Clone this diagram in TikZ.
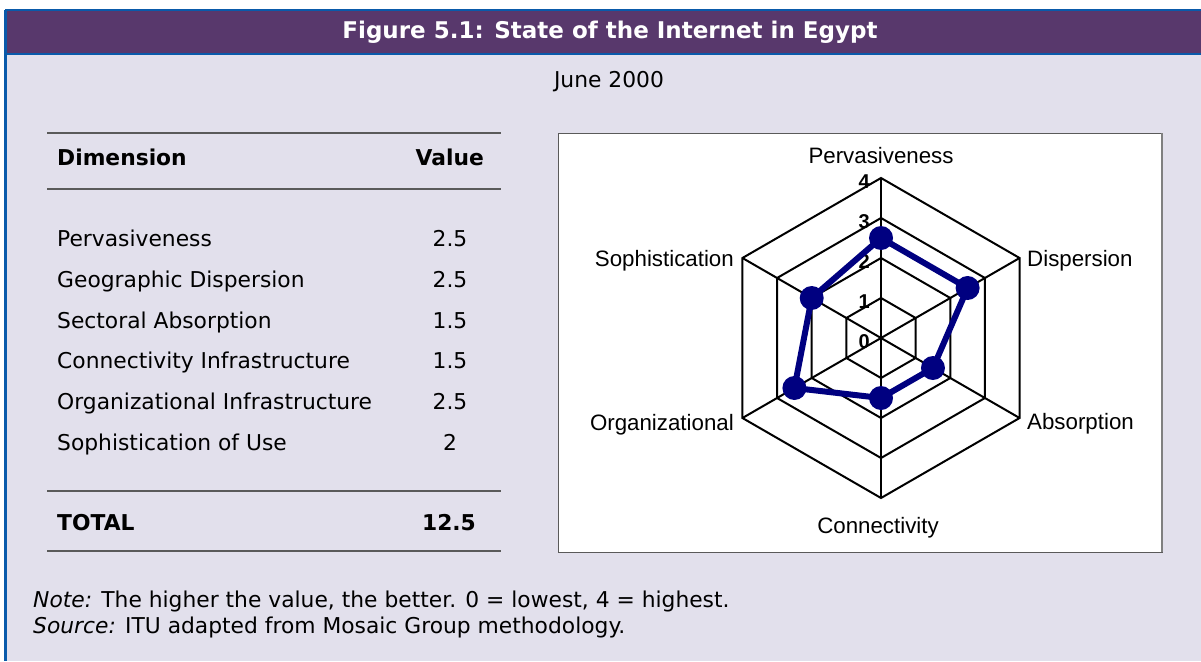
\documentclass[tikz,border=0pt]{standalone}
\usepackage{fontspec}
\setmainfont{DejaVu Sans}
\newfontfamily\chartfont{Liberation Sans}
\definecolor{headpurple}{RGB}{88,56,108}
\definecolor{panelbg}{RGB}{226,224,236}
\definecolor{borderblue}{RGB}{10,90,170}
\definecolor{rulegray}{RGB}{90,90,90}
\definecolor{linenavy}{RGB}{0,0,128}
\begin{document}
\begin{tikzpicture}[x=1pt,y=-1pt,
    bodytext/.style={font=\fontsize{21.8}{26}\selectfont, inner sep=0pt},
    headtext/.style={font=\fontsize{21.8}{26}\selectfont\bfseries, inner sep=0pt},
    titletext/.style={font=\fontsize{23}{26}\selectfont\bfseries, inner sep=0pt, text=white},
    axislabel/.style={font=\chartfont\fontsize{22.3}{24}\selectfont, inner sep=0pt},
    ticklabel/.style={font=\chartfont\fontsize{20}{22}\selectfont\bfseries, inner sep=0pt},
    tablerule/.style={draw=rulegray, line width=1.5pt},
    ring/.style={draw=black, line width=2pt, line join=miter}]
    \useasboundingbox (0,0) rectangle (1201,661);
    \fill[white] (0,0) rectangle (1201,661);
    % frame and header
    \fill[panelbg] (5,10) rectangle (1201,661);
    \fill[headpurple] (5,10) rectangle (1201,54);
    \draw[borderblue, line width=1.5pt] (5,10) -- (1201,10);
    \draw[borderblue, line width=1.5pt] (5,54) -- (1201,54);
    \draw[borderblue, line width=3pt] (5.5,10) -- (5.5,661);
    \node[titletext, anchor=base] (title) at (610,39) {Figure 5.1: State of the Internet in Egypt};
    \node[bodytext, anchor=base] (date) at (609,87.5) {June 2000};
    % table
    \draw[tablerule] (47,133) -- (501,133);
    \draw[tablerule] (47,189) -- (501,189);
    \draw[tablerule] (47,491) -- (501,491);
    \draw[tablerule] (47,551) -- (501,551);
    \node[headtext, anchor=base west] (dimhead) at (57,165.5) {Dimension};
    \node[headtext, anchor=base east] (valhead) at (484,165.5) {Value};
    \foreach \name/\val/\y [count=\i] in {Pervasiveness/2.5/246.5, Geographic Dispersion/2.5/287.5,
        Sectoral Absorption/1.5/328, Connectivity Infrastructure/1.5/368.5,
        Organizational Infrastructure/2.5/409.5, Sophistication of Use/2/450.5}{
        \node[bodytext, anchor=base west] (dim\i) at (57,\y) {\name};
        \node[bodytext, anchor=base] (val\i) at (450,\y) {\val};
    }
    \node[headtext, anchor=base west] (total) at (57,530.5) {TOTAL};
    \node[headtext, anchor=base] (totalval) at (449,530.5) {12.5};
    % chart box
    \draw[fill=white, draw=rulegray, line width=1pt] (558,133) rectangle (1162,552);
    \draw[gray, line width=1.5pt] (1162,133) -- (1162,552);
    \begin{scope}[shift={(881,338)}, y=1pt]
        \foreach \r in {1,2,3,4}
            \draw[ring] (90:\r*40) -- (30:\r*40) -- (-30:\r*40) -- (-90:\r*40)
                -- (-150:\r*40) -- (150:\r*40) -- cycle;
        \foreach \a in {90,30,-30,-90,-150,150}
            \draw[ring] (0,0) -- (\a:160);
        \foreach \v in {0,...,4}
            \node[ticklabel, anchor=base east] (tick\v) at (-11,\v*40-10) {\v};
        % values
        \coordinate (p1) at (90:100);
        \coordinate (p2) at (30:100);
        \coordinate (p3) at (-30:60);
        \coordinate (p4) at (-90:60);
        \coordinate (p5) at (-150:100);
        \coordinate (p6) at (150:80);
        \draw[linenavy, line width=6pt, line join=round] (p1) -- (p2) -- (p3) -- (p4) -- (p5) -- (p6) -- cycle;
        \foreach \i in {1,...,6}
            \fill[linenavy] (p\i) circle (12);
        % axis names
        \node[axislabel, anchor=base] (pervasive) at (0,175) {Pervasiveness};
        \node[axislabel, anchor=base west] (dispersion) at (146,72) {Dispersion};
        \node[axislabel, anchor=base west] (absorption) at (146,-91) {Absorption};
        \node[axislabel, anchor=base] (connect) at (-3,-195) {Connectivity};
        \node[axislabel, anchor=base east] (organize) at (-147,-92) {Organizational};
        \node[axislabel, anchor=base east] (sophist) at (-147,72) {Sophistication};
    \end{scope}
    % notes
    \node[bodytext, anchor=base west] (note) at (33,607.5) {\textit{Note:} The higher the value, the better. 0 = lowest, 4 = highest.};
    \node[bodytext, anchor=base west] (source) at (33,633.5) {\textit{Source:} ITU adapted from Mosaic Group methodology.};
\end{tikzpicture}
\end{document}
